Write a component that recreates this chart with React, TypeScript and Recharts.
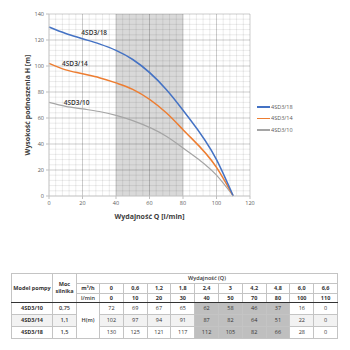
import React from "react";
import {
  Line,
  LineChart,
  ReferenceArea,
  ReferenceDot,
  ReferenceLine,
  XAxis,
  YAxis,
} from "recharts";

// flow in l/min and m3/h
const Q_LMIN = [0, 10, 20, 30, 40, 50, 70, 80, 100, 110];
const Q_M3H = ["0", "0,6", "1,2", "1,8", "2,4", "3", "4,2", "4,8", "6,0", "6,6"];

const MODELS = ["4SD3/10", "4SD3/14", "4SD3/18"];
const POWER = ["0,75", "1,1", "1,5"];

// head H [m]
const H_10 = [72, 69, 67, 65, 62, 58, 46, 37, 16, 0];
const H_14 = [102, 97, 94, 91, 87, 82, 64, 51, 22, 0];
const H_18 = [130, 125, 121, 117, 112, 105, 82, 66, 28, 0];

const X_TICKS = [0, 20, 40, 60, 80, 100, 120];
const Y_TICKS = [0, 20, 40, 60, 80, 100, 120, 140];
const WORK_RANGE = [40, 80];

const COLORS = { h18: "#4472c4", h14: "#ed7d31", h10: "#a5a5a5" };

// where the curve names sit on the plot
const CURVE_LABELS = [
  { text: "4SD3/18", q: 27, h: 126 },
  { text: "4SD3/14", q: 15.5, h: 102 },
  { text: "4SD3/10", q: 16.5, h: 72 },
];

const chartData = Q_LMIN.map((q, i) => ({
  q,
  h10: H_10[i],
  h14: H_14[i],
  h18: H_18[i],
}));

const minorX: number[] = [];
for (let v = 4; v < 120; v += 4) if (v % 20 !== 0) minorX.push(v);
const minorY: number[] = [];
for (let v = 4; v < 140; v += 4) if (v % 20 !== 0) minorY.push(v);

const FONT = "'Open Sans', sans-serif";
const tickStyle = { fontSize: 5.5, fill: "#595959", fontFamily: FONT };

const HEADS = [H_10, H_14, H_18];

function PumpTable() {
  const border = "1px solid #c4c4c4";
  const cell: React.CSSProperties = {
    border,
    padding: 0,
    textAlign: "center",
    verticalAlign: "middle",
    lineHeight: 1.1,
  };
  const head: React.CSSProperties = { ...cell, fontWeight: 700, color: "#333" };
  const thick = "1.5px solid #333";
  return (
    <table
      style={{
        position: "absolute",
        left: 11,
        top: 273,
        width: 327,
        borderCollapse: "collapse",
        tableLayout: "fixed",
        fontFamily: FONT,
        fontSize: 5.5,
        color: "#333",
      }}
    >
      <colgroup>
        <col style={{ width: 41 }} />
        <col style={{ width: 24 }} />
        <col style={{ width: 23 }} />
        {Q_LMIN.map((q) => (
          <col key={q} />
        ))}
      </colgroup>
      <tbody>
        <tr style={{ height: 10 }}>
          <td rowSpan={3} style={{ ...head, borderBottom: thick }}>
            Model pompy
          </td>
          <td rowSpan={3} style={{ ...head, borderBottom: thick, lineHeight: 1.35 }}>
            <div>Moc</div>
            <div>silnika</div>
          </td>
          <td colSpan={11} style={{ ...head, fontWeight: 600 }}>
            Wydajność (Q)
          </td>
        </tr>
        <tr style={{ height: 10 }}>
          <td style={head}>
            m³/h
          </td>
          {Q_M3H.map((m) => (
            <td key={m} style={head}>
              {m}
            </td>
          ))}
        </tr>
        <tr style={{ height: 9 }}>
          <td style={{ ...head, fontWeight: 600, borderBottom: thick }}>l/min</td>
          {Q_LMIN.map((q) => (
            <td key={q} style={{ ...head, borderBottom: thick }}>
              {q}
            </td>
          ))}
        </tr>
        {MODELS.map((model, r) => {
          const bg = r === 1 ? "#f2f2f2" : "#fff";
          return (
            <tr key={model} style={{ height: 12 }}>
              <td style={{ ...head, background: bg }}>{model}</td>
              <td style={{ ...head, fontWeight: 600, background: bg }}>{POWER[r]}</td>
              {r === 0 && (
                <td rowSpan={3} style={{ ...cell, fontWeight: 600 }}>
                  H(m)
                </td>
              )}
              {HEADS[r].map((h, i) => {
                const inRange = Q_LMIN[i] >= WORK_RANGE[0] && Q_LMIN[i] <= WORK_RANGE[1];
                return (
                  <td key={i} style={{ ...cell, background: inRange ? "#bfbfbf" : bg }}>
                    {h}
                  </td>
                );
              })}
            </tr>
          );
        })}
      </tbody>
    </table>
  );
}

export default function App() {
  const legendItems = [
    { name: "4SD3/18", color: COLORS.h18 },
    { name: "4SD3/14", color: COLORS.h14 },
    { name: "4SD3/10", color: COLORS.h10 },
  ];
  return (
    <div
      style={{
        position: "absolute",
        left: 0,
        top: 0,
        width: 350,
        height: 350,
        background: "#fff",
        overflow: "hidden",
      }}
    >
      <LineChart
        width={350}
        height={240}
        data={chartData}
        margin={{ top: 14, right: 100, bottom: 14, left: 0 }}
      >
        <XAxis
          dataKey="q"
          type="number"
          domain={[0, 120]}
          ticks={X_TICKS}
          height={30}
          tick={tickStyle}
          tickSize={3}
          tickMargin={2}
          axisLine={{ stroke: "#bfbfbf" }}
          tickLine={{ stroke: "#bfbfbf" }}
          label={{
            value: "Wydajność Q [l/min]",
            position: "insideBottom",
            offset: 7,
            style: { fontSize: 7, fontWeight: 700, fill: "#404040", fontFamily: FONT },
          }}
        />
        <YAxis
          width={49}
          domain={[0, 140]}
          ticks={Y_TICKS}
          tick={tickStyle}
          tickSize={3}
          tickMargin={2}
          axisLine={{ stroke: "#bfbfbf" }}
          tickLine={{ stroke: "#bfbfbf" }}
          label={{
            value: "Wysokość podnoszenia H [m]",
            angle: -90,
            position: "insideLeft",
            offset: 28,
            style: {
              textAnchor: "middle",
              fontSize: 7,
              fontWeight: 700,
              fill: "#404040",
              fontFamily: FONT,
            },
          }}
        />
        <ReferenceArea
          x1={WORK_RANGE[0]}
          x2={WORK_RANGE[1]}
          y1={0}
          y2={140}
          fill="#d9d9d9"
          fillOpacity={1}
          stroke="none"
        />
        {minorX.map((v) => (
          <ReferenceLine key={"mx" + v} x={v} stroke="#000" strokeOpacity={0.08} />
        ))}
        {minorY.map((v) => (
          <ReferenceLine key={"my" + v} y={v} stroke="#000" strokeOpacity={0.08} />
        ))}
        {X_TICKS.slice(1).map((v) => (
          <ReferenceLine key={"x" + v} x={v} stroke="#000" strokeOpacity={0.2} />
        ))}
        {Y_TICKS.slice(1).map((v) => (
          <ReferenceLine key={"y" + v} y={v} stroke="#000" strokeOpacity={0.2} />
        ))}
        <Line
          type="monotone"
          dataKey="h10"
          name="4SD3/10"
          stroke={COLORS.h10}
          strokeWidth={1.2}
          dot={false}
          isAnimationActive={false}
        />
        <Line
          type="monotone"
          dataKey="h14"
          name="4SD3/14"
          stroke={COLORS.h14}
          strokeWidth={1.5}
          dot={false}
          isAnimationActive={false}
        />
        <Line
          type="monotone"
          dataKey="h18"
          name="4SD3/18"
          stroke={COLORS.h18}
          strokeWidth={1.5}
          dot={false}
          isAnimationActive={false}
        />
        {CURVE_LABELS.map((l) => (
          <ReferenceDot
            key={l.text}
            x={l.q}
            y={l.h}
            r={0}
            fill="none"
            stroke="none"
            label={{
              value: l.text,
              position: "center",
              style: { fontSize: 6.5, fontWeight: 600, fill: "#333", fontFamily: FONT },
            }}
          />
        ))}
      </LineChart>
      <div
        style={{
          position: "absolute",
          left: 257,
          top: 101,
          fontFamily: FONT,
          fontSize: 5.5,
          color: "#595959",
        }}
      >
        {legendItems.map((it) => (
          <div key={it.name} style={{ display: "flex", alignItems: "center", height: 11.5 }}>
            <span
              style={{
                display: "inline-block",
                width: 13,
                height: 1.5,
                background: it.color,
                marginRight: 1,
              }}
            />
            {it.name}
          </div>
        ))}
      </div>
      <PumpTable />
    </div>
  );
}
